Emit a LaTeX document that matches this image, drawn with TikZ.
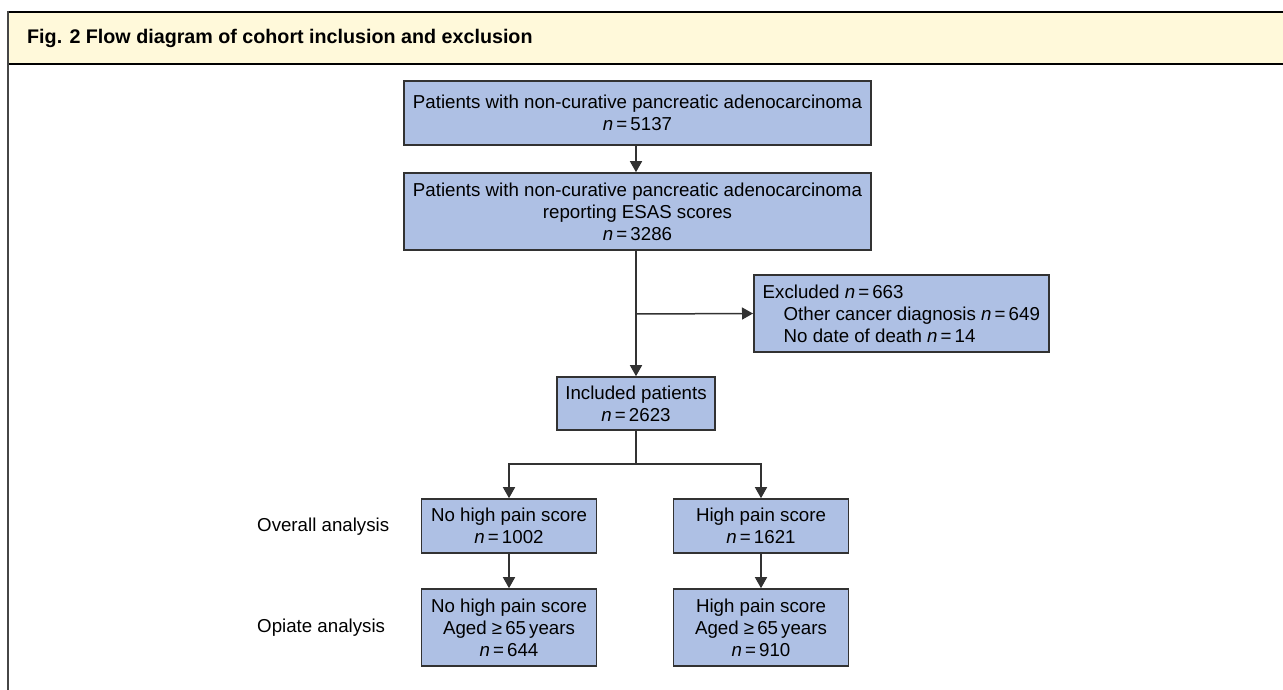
\documentclass[tikz,border=0pt]{standalone}
\usepackage{fontspec}
\setmainfont{Liberation Sans}
\usetikzlibrary{arrows.meta}
\definecolor{boxfill}{RGB}{174,192,228}
\definecolor{boxdraw}{RGB}{50,50,50}
\definecolor{headfill}{RGB}{255,249,218}
\definecolor{framegray}{RGB}{70,70,70}
\newcommand{\nn}{\textit{n}\,=\,}
\tikzset{
  flowbox/.style={draw=boxdraw, line width=1.6pt, fill=boxfill, align=center, inner sep=0pt,
    font=\fontsize{18.7}{22}\selectfont},
  arr/.style={draw=boxdraw, line width=1.5pt, -{Triangle[length=11pt,width=12pt]}},
  ln/.style={draw=boxdraw, line width=1.5pt},
  sidelabel/.style={anchor=west, inner sep=0pt, font=\fontsize{18.7}{22}\selectfont}
}
\begin{document}
\begin{tikzpicture}[x=1pt,y=-1pt]
\useasboundingbox (0,0) rectangle (1283,690);
% header
\fill[headfill] (8,12) rectangle (1283,64);
\draw[line width=2.2pt, black] (8,12) -- (1283,12);
\draw[line width=2.2pt, black] (8,64) -- (1283,64);
\draw[line width=2.6pt, framegray] (8,11) -- (8,690);
\node[anchor=west, inner sep=0pt, font=\bfseries\fontsize{19.7}{22}\selectfont] (title) at (27,38) {Fig. 2 Flow diagram of cohort inclusion and exclusion};
% boxes
\node[flowbox, minimum width=467pt, minimum height=64pt] (b1) at (637.5,113)
  {Patients with non-curative pancreatic adenocarcinoma\\ \nn 5137};
\node[flowbox, minimum width=467pt, minimum height=77pt] (b2) at (637.5,211.5)
  {Patients with non-curative pancreatic adenocarcinoma\\ reporting ESAS scores\\ \nn 3286};
\node[flowbox, align=left, anchor=west, minimum width=295pt, minimum height=77pt] (exc) at (753,313.5)
  {Excluded \nn 663\\ \hspace*{21pt}Other cancer diagnosis \nn 649\\ \hspace*{21pt}No date of death \nn 14};
\node[flowbox, minimum width=158pt, minimum height=53pt] (inc) at (636,403.5)
  {Included patients\\ \nn 2623};
\node[flowbox, minimum width=175pt, minimum height=54pt] (nh) at (509,526)
  {No high pain score\\ \nn 1002};
\node[flowbox, minimum width=175pt, minimum height=54pt] (hi) at (761,526)
  {High pain score\\ \nn 1621};
\node[flowbox, minimum width=175pt, minimum height=77pt] (nho) at (509,627.5)
  {No high pain score\\ Aged ≥\,65\,years\\ \nn 644};
\node[flowbox, minimum width=175pt, minimum height=77pt] (hio) at (761,627.5)
  {High pain score\\ Aged ≥\,65\,years\\ \nn 910};
% side labels
\node[sidelabel] (ov) at (257,527) {Overall analysis};
\node[sidelabel] (op) at (257,628) {Opiate analysis};
% connectors
\draw[arr] (b1.south -| inc.north) -- (b2.north -| inc.north);
\draw[arr] (b2.south -| inc.north) -- (inc.north);
\coordinate (br) at (636,314);
\draw[arr] (br) -- (exc.west);
\coordinate (sp) at (636,464);
\draw[ln] (inc.south) -- (sp);
\draw[arr] (sp) -| (nh.north);
\draw[arr] (sp) -| (hi.north);
\draw[arr] (nh.south) -- (nho.north);
\draw[arr] (hi.south) -- (hio.north);
\end{tikzpicture}
\end{document}
